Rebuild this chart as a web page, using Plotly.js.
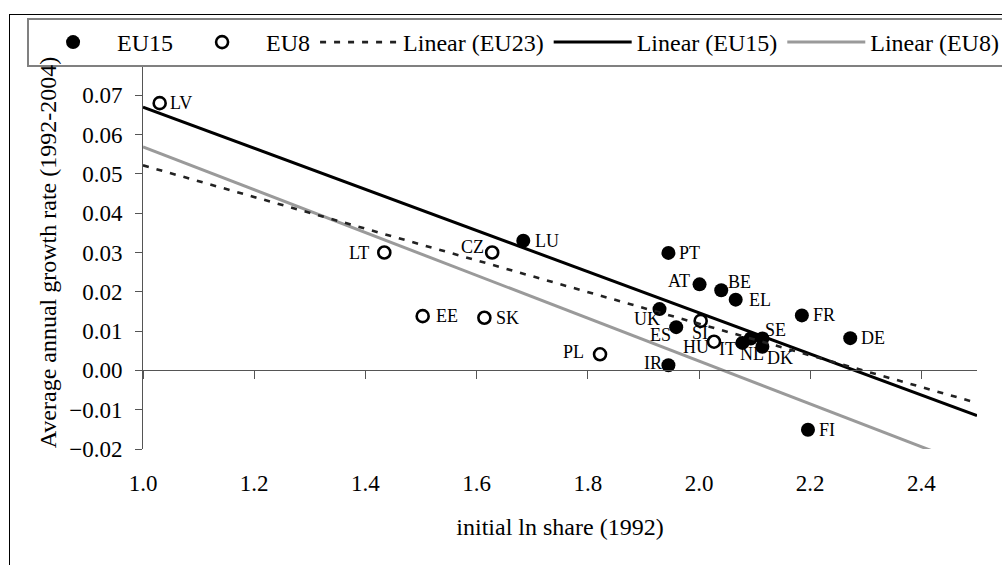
<!DOCTYPE html>
<html>
<head>
<meta charset="utf-8">
<script src="https://cdn.plot.ly/plotly-3.0.1.min.js"></script>
<style>
  html, body { margin: 0; padding: 0; background: #fff; overflow: hidden; }
  #wrap { position: relative; width: 1002px; height: 565px; overflow: hidden; }
  #chart { width: 1002px; height: 565px; }
  #frame { position: absolute; left: 9px; top: 14px; width: 1100px; height: 700px;
           border-left: 1.5px solid #000; border-top: 1.5px solid #000; pointer-events: none; }
</style>
</head>
<body>
<div id="wrap">
  <div id="chart"></div>
  <div id="frame"></div>
</div>
<script>
// Old member states (EU15): initial ln share in 1992 vs. average annual growth 1992-2004
const eu15Countries = ['LU', 'PT', 'AT', 'BE', 'EL', 'UK', 'ES', 'FR', 'DE', 'IT', 'NL', 'SE', 'DK', 'IR', 'FI'];
const eu15Share  = [1.684, 1.945, 2.001, 2.040, 2.066, 1.929, 1.959, 2.185, 2.272, 2.078, 2.093, 2.114, 2.114, 1.945, 2.196];
const eu15Growth = [0.0330, 0.0299, 0.0219, 0.0204, 0.0180, 0.0156, 0.0110, 0.0140, 0.0082, 0.0070, 0.0081, 0.0081, 0.0060, 0.0013, -0.0151];

// New member states (EU8)
const eu8Countries = ['LV', 'LT', 'CZ', 'EE', 'SK', 'PL', 'SI', 'HU'];
const eu8Share  = [1.030, 1.434, 1.628, 1.503, 1.614, 1.822, 2.003, 2.027];
const eu8Growth = [0.0680, 0.0300, 0.0300, 0.0138, 0.0134, 0.0041, 0.0126, 0.0073];

// Axis ticks
const xTicks = [1.0, 1.2, 1.4, 1.6, 1.8, 2.0, 2.2, 2.4];
const yTicks = [-0.02, -0.01, 0.00, 0.01, 0.02, 0.03, 0.04, 0.05, 0.06, 0.07, 0.08];
const xRange = [1.0, 2.5];
const yRange = [-0.02, 0.08];

// Label placement around each marker: [anchor, x offset px, y offset px (down)]
const labelPlacement = {
  LV: ['left', 8, 0],   LT: ['right', -13, 0], CZ: ['right', -6, -6], EE: ['left', 11, 0],
  SK: ['left', 10, 0],  PL: ['right', -14, -2], SI: ['center', -1, 12], HU: ['right', -3, 5],
  LU: ['left', 10, 0],  PT: ['left', 9, 0],   AT: ['right', -8, -3],  BE: ['left', 5, -8],
  EL: ['left', 11, 0],  UK: ['right', 2, 10], ES: ['right', -3, 8],   FR: ['left', 9, 0],
  DE: ['left', 9, 0],   IT: ['right', -4, 6], NL: ['center', 1, 15],  SE: ['left', 1, -9],
  DK: ['left', 3, 11],  IR: ['right', -4, -2], FI: ['left', 9, 0]
};

// Ordinary least squares fit, evaluated across the x axis range
function linearFit(xs, ys) {
  const n = xs.length;
  const mx = xs.reduce((a, b) => a + b, 0) / n;
  const my = ys.reduce((a, b) => a + b, 0) / n;
  let sxy = 0, sxx = 0;
  for (let i = 0; i < n; i++) {
    sxy += (xs[i] - mx) * (ys[i] - my);
    sxx += (xs[i] - mx) * (xs[i] - mx);
  }
  const slope = sxy / sxx;
  const icpt = my - slope * mx;
  return { x: xRange.slice(), y: xRange.map(v => icpt + slope * v) };
}

const fitAll  = linearFit(eu15Share.concat(eu8Share), eu15Growth.concat(eu8Growth));
const fit15   = linearFit(eu15Share, eu15Growth);
const fit8    = linearFit(eu8Share, eu8Growth);

const serif = 'Liberation Serif';

const traces = [
  {
    name: 'EU15', type: 'scatter', mode: 'markers',
    x: eu15Share, y: eu15Growth,
    marker: { symbol: 'circle', size: 14, color: '#000', line: { width: 0 } },
    hoverinfo: 'skip'
  },
  {
    name: 'EU8', type: 'scatter', mode: 'markers',
    x: eu8Share, y: eu8Growth,
    marker: { symbol: 'circle-open', size: 12, color: '#000', line: { width: 2.6, color: '#000' } },
    hoverinfo: 'skip'
  },
  {
    name: 'Linear (EU23)', type: 'scatter', mode: 'lines', xaxis: 'x2',
    x: fitAll.x, y: fitAll.y,
    line: { color: '#222', width: 2.6, dash: '6px,8px' },
    hoverinfo: 'skip'
  },
  {
    name: 'Linear (EU15)', type: 'scatter', mode: 'lines',
    x: fit15.x, y: fit15.y,
    line: { color: '#000', width: 3 },
    hoverinfo: 'skip'
  },
  {
    name: 'Linear (EU8)', type: 'scatter', mode: 'lines',
    x: fit8.x, y: fit8.y,
    line: { color: '#9a9a9a', width: 3 },
    hoverinfo: 'skip'
  }
];

// Country labels next to each marker
const annotations = [];
function addLabels(names, xs, ys) {
  names.forEach((nm, i) => {
    const p = labelPlacement[nm];
    annotations.push({
      x: xs[i], y: ys[i], xref: 'x', yref: 'y',
      text: nm, showarrow: false,
      xanchor: p[0], yanchor: 'middle',
      xshift: p[1], yshift: -p[2],
      font: { family: serif, size: 18, color: '#000' }
    });
  });
}
addLabels(eu15Countries, eu15Share, eu15Growth);
addLabels(eu8Countries, eu8Share, eu8Growth);

const axisGrey = '#555';

const layout = {
  width: 1002, height: 565,
  margin: { l: 143, r: 25, t: 56, b: 116, autoexpand: false },
  paper_bgcolor: '#fff', plot_bgcolor: '#fff',
  font: { family: serif, color: '#000' },
  showlegend: true,
  xaxis: {
    range: xRange, tickvals: xTicks, tickformat: '.1f',
    showgrid: false, zeroline: false, showline: false, ticks: '',
    ticklabelstandoff: 18,
    tickfont: { family: serif, size: 23, color: '#000' },
    title: { text: 'initial ln share (1992)', font: { family: serif, size: 24, color: '#000' }, standoff: 23 }
  },
  // axis line with ticks crossing at y = 0
  xaxis2: {
    range: xRange, overlaying: 'x', anchor: 'free', position: 0.2, side: 'bottom',
    tickvals: xTicks, showticklabels: false,
    showgrid: false, zeroline: false,
    showline: true, linecolor: axisGrey, linewidth: 1,
    ticks: 'outside', ticklen: 8, tickcolor: axisGrey, tickwidth: 1
  },
  yaxis: {
    range: yRange, tickvals: yTicks, tickformat: '.2f',
    showgrid: false, zeroline: false,
    showline: true, linecolor: axisGrey, linewidth: 1,
    ticks: 'outside', ticklen: 7, tickcolor: axisGrey, tickwidth: 1,
    ticklabelstandoff: 8,
    tickfont: { family: serif, size: 23, color: '#000' },
    title: { text: 'Average annual growth rate (1992-2004)', font: { family: serif, size: 24, color: '#000' }, standoff: 5 }
  },
  legend: {
    orientation: 'h', x: -0.139, xanchor: 'left', y: 1.0967, yanchor: 'top',
    bgcolor: '#fff', bordercolor: '#808080', borderwidth: 2,
    font: { family: serif, size: 24, color: '#000' },
    itemwidth: 78, traceorder: 'normal'
  },
  annotations: annotations
};

Plotly.newPlot('chart', traces, layout, { staticPlot: true, displayModeBar: false });
</script>
</body>
</html>
